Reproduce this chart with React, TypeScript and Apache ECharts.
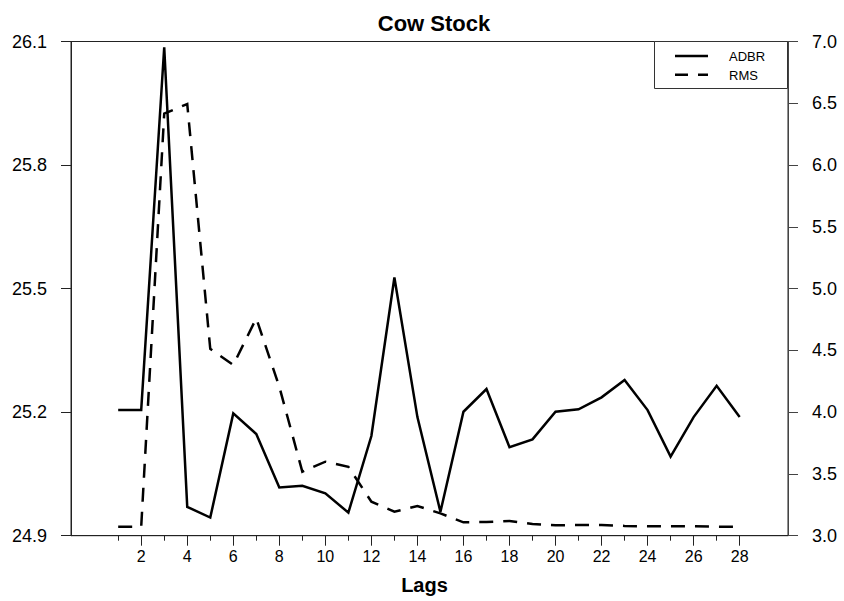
import React, { useEffect, useRef } from "react";
import * as echarts from "echarts";

const lags = [1, 2, 3, 4, 5, 6, 7, 8, 9, 10, 11, 12, 13, 14, 15, 16, 17, 18, 19, 20, 21, 22, 23, 24, 25, 26, 27, 28];
const adbr = [25.205, 25.205, 26.086, 24.970, 24.944, 25.197, 25.147, 25.017, 25.021, 25.003, 24.956, 25.142, 25.527, 25.188, 24.958, 25.201, 25.256, 25.115, 25.134, 25.201, 25.207, 25.236, 25.278, 25.205, 25.092, 25.188, 25.264, 25.188];
const rms = [3.073, 3.073, 6.416, 6.494, 4.512, 4.382, 4.76, 4.206, 3.518, 3.599, 3.558, 3.275, 3.194, 3.24, 3.181, 3.108, 3.111, 3.119, 3.095, 3.084, 3.087, 3.087, 3.079, 3.076, 3.076, 3.076, 3.073, 3.073];
const majorTicks = [2, 4, 6, 8, 10, 12, 14, 16, 18, 20, 22, 24, 26, 28];
const minorTicks = [1, 3, 5, 7, 9, 11, 13, 15, 17, 19, 21, 23, 25, 27];
const seriesNames = ["ADBR", "RMS"];
const titleText = "Cow Stock";
const xName = "Lags";

const FONT = "'Liberation Sans', Arial, Helvetica, sans-serif";
const LINE = "#222";

export default function App() {
  const ref = useRef<HTMLDivElement>(null);
  useEffect(() => {
    document.body.style.margin = "0";
    if (!ref.current) return;
    const chart = echarts.init(ref.current, null, { renderer: "svg" });
    const xMin = -1.05;
    const xMax = 30.1;
    chart.setOption({
      animation: false,
      backgroundColor: "#fff",
      title: {
        text: titleText,
        left: 429,
        textAlign: "center",
        top: 7,
        textStyle: { fontFamily: FONT, fontSize: 22, fontWeight: "bold", color: "#000" },
      },
      grid: {
        left: 71,
        right: 56,
        top: 41.5,
        bottom: 65.3,
        show: true,
        borderColor: LINE,
        borderWidth: 1,
      },
      xAxis: [
        {
          type: "value",
          position: "bottom",
          min: xMin,
          max: xMax,
          name: xName,
          nameLocation: "middle",
          nameGap: 39,
          nameTextStyle: { fontFamily: FONT, fontSize: 20, fontWeight: "bold", color: "#000", padding: [0, 10, 0, 0] },
          axisLine: { show: true, onZero: false, lineStyle: { color: LINE, width: 1 } },
          axisTick: { show: true, customValues: majorTicks, length: 10, lineStyle: { color: LINE, width: 1 } },
          axisLabel: { customValues: majorTicks, fontFamily: FONT, fontSize: 16, color: "#000", margin: 13 },
          splitLine: { show: false },
        },
        {
          type: "value",
          position: "bottom",
          min: xMin,
          max: xMax,
          axisLine: { show: false, onZero: false },
          axisTick: { show: true, customValues: minorTicks, length: 5, lineStyle: { color: LINE, width: 1 } },
          axisLabel: { show: false },
          splitLine: { show: false },
        },
      ],
      yAxis: [
        {
          type: "value",
          position: "left",
          min: 24.9,
          max: 26.1,
          interval: 0.3,
          axisLine: { show: true, onZero: false, lineStyle: { color: LINE, width: 1 } },
          axisTick: { show: true, length: 10, lineStyle: { color: LINE, width: 1 } },
          axisLabel: {
            fontFamily: FONT,
            fontSize: 18,
            color: "#000",
            margin: 24,
            formatter: (v: number) => v.toFixed(1),
          },
          splitLine: { show: false },
        },
        {
          type: "value",
          position: "right",
          min: 3,
          max: 7,
          interval: 0.5,
          axisLine: { show: true, onZero: false, lineStyle: { color: "#444", width: 1 } },
          axisTick: { show: true, length: 10, lineStyle: { color: "#444", width: 1 } },
          axisLabel: {
            fontFamily: FONT,
            fontSize: 18,
            color: "#000",
            margin: 24,
            formatter: (v: number) => v.toFixed(1),
          },
          splitLine: { show: false },
        },
      ],
      series: [
        {
          name: seriesNames[0],
          type: "line",
          xAxisIndex: 0,
          yAxisIndex: 0,
          data: lags.map((l, i) => [l, adbr[i]]),
          symbol: "none",
          lineStyle: { color: "#000", width: 2.5, type: "solid", join: "miter" },
        },
        {
          name: seriesNames[1],
          type: "line",
          xAxisIndex: 0,
          yAxisIndex: 1,
          data: lags.map((l, i) => [l, rms[i]]),
          symbol: "none",
          lineStyle: { color: "#000", width: 2.5, type: [14, 10], join: "miter" },
        },
      ],
      graphic: [
        {
          type: "rect",
          shape: { x: 654.5, y: 41.5, width: 133, height: 47 },
          style: { fill: "#fff", stroke: "#333", lineWidth: 1 },
          z: 10,
        },
        {
          type: "line",
          shape: { x1: 675, y1: 56, x2: 708, y2: 56 },
          style: { stroke: "#000", lineWidth: 2.5 },
          z: 11,
        },
        {
          type: "line",
          shape: { x1: 675, y1: 74.7, x2: 708, y2: 74.7 },
          style: { stroke: "#000", lineWidth: 2.5, lineDash: [13, 10] },
          z: 11,
        },
        {
          type: "text",
          x: 729,
          y: 56.7,
          style: { text: seriesNames[0], fontFamily: FONT, fontSize: 13, fill: "#000", verticalAlign: "middle", align: "left" },
          z: 11,
        },
        {
          type: "text",
          x: 729,
          y: 75,
          style: { text: seriesNames[1], fontFamily: FONT, fontSize: 13, fill: "#000", verticalAlign: "middle", align: "left" },
          z: 11,
        },
      ],
    });
    return () => chart.dispose();
  }, []);
  return <div ref={ref} style={{ width: 844, height: 601 }} />;
}
